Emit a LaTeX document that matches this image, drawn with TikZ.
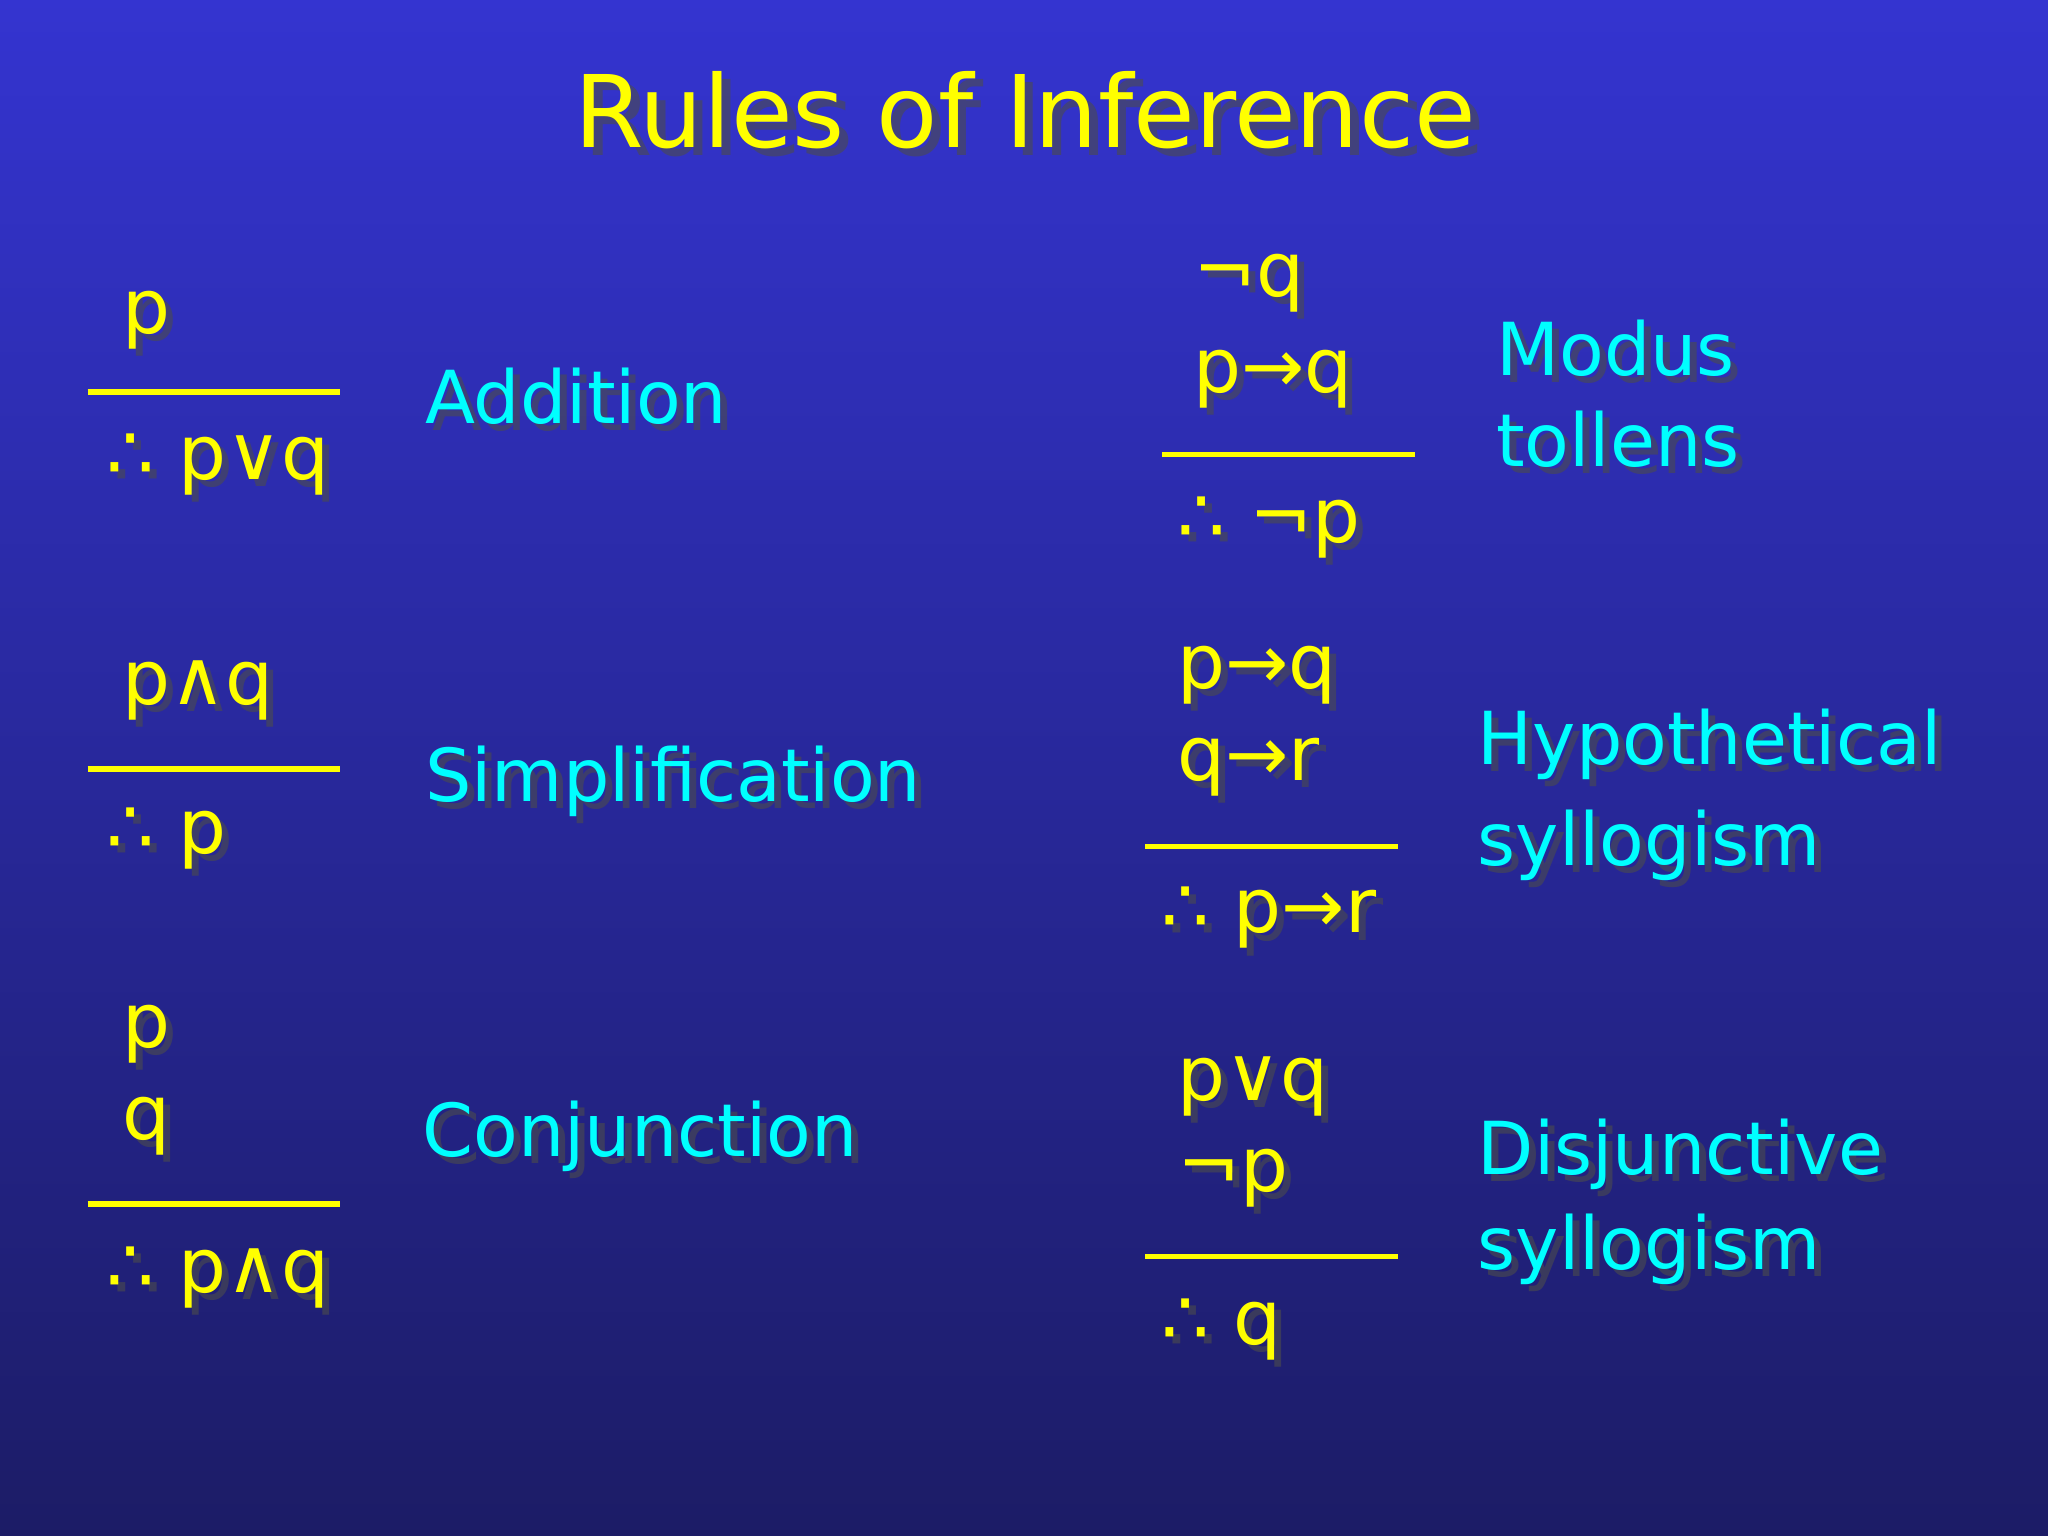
\documentclass[tikz,border=0pt]{standalone}
\usepackage{fontspec}
\setmainfont{DejaVu Sans}
\definecolor{bgtop}{HTML}{3434D0}
\definecolor{bgbot}{HTML}{1C1C66}
\definecolor{ylw}{HTML}{FFFF00}
\definecolor{cyn}{HTML}{00FFFF}
\newcommand\mytxt[5]{%
  \node[anchor=mid west,text=black!70,opacity=0.6,font=#4] (#2s) at ([xshift=2pt,yshift=-5.7pt]#1) {#5};
  \node[anchor=mid west,text=#3,font=#4] (#2) at ([yshift=-3.7pt]#1) {#5};}
\tikzset{rule/.style={draw=ylw,line width=1.6pt}}
\begin{document}
\begin{tikzpicture}[x=0.01306cm,y=-0.01306cm]
\shade[top color=bgtop,bottom color=bgbot] (0,0) rectangle (1568,1176);
\useasboundingbox (0,0) rectangle (1568,1176);
\def\F{\fontsize{21.5}{26}\selectfont}
\def\L{\fontsize{20.8}{25}\selectfont}
% title
\node[text=black!70,opacity=0.6,font=\fontsize{28.5}{34}\selectfont] (ts) at ([xshift=2.5pt,yshift=-2.5pt]785,84) {Rules of Inference};
\node[text=ylw,font=\fontsize{28.5}{34}\selectfont] (title) at (785,84) {Rules of Inference};
% Addition
\mytxt{84,238}{a1}{ylw}{\F}{p}
\coordinate (a0) at (67,300); \coordinate (a9) at (260,300);
\draw[rule] (a0) -- (a9);
\mytxt{72,350}{a2}{ylw}{\F}{∴ p∨q}
\mytxt{316,307}{al}{cyn}{\L}{Addition}
% Simplification
\mytxt{84,522}{s1}{ylw}{\F}{p∧q}
\coordinate (s0) at (67,589); \coordinate (s9) at (260,589);
\draw[rule] (s0) -- (s9);
\mytxt{72,636}{s2}{ylw}{\F}{∴ p}
\mytxt{316,596}{sl}{cyn}{\L}{Simplification}
% Conjunction
\mytxt{84,785}{c1}{ylw}{\F}{p}
\mytxt{84,855}{c2}{ylw}{\F}{q}
\coordinate (c0) at (67,922); \coordinate (c9) at (260,922);
\draw[rule] (c0) -- (c9);
\mytxt{72,972}{c3}{ylw}{\F}{∴ p∧q}
\mytxt{314,868}{cl}{cyn}{\L}{Conjunction}
% Modus tollens
\mytxt{904,210}{m1}{ylw}{\F}{¬q}
\mytxt{904,283}{m2}{ylw}{\F}{p→q}
\coordinate (m0) at (890,348); \coordinate (m9) at (1083,348);
\draw[rule] (m0) -- (m9);
\mytxt{892,398}{m3}{ylw}{\F}{∴ ¬p}
\mytxt{1136,270}{ml1}{cyn}{\L}{Modus}
\mytxt{1136,340}{ml2}{cyn}{\L}{tollens}
% Hypothetical syllogism
\mytxt{892,510}{h1}{ylw}{\F}{p→q}
\mytxt{892,580}{h2}{ylw}{\F}{q→r}
\coordinate (h0) at (877,648); \coordinate (h9) at (1070,648);
\draw[rule] (h0) -- (h9);
\mytxt{880,697}{h3}{ylw}{\F}{∴ p→r}
\mytxt{1122,568}{hl1}{cyn}{\L}{Hypothetical}
\mytxt{1122,645}{hl2}{cyn}{\L}{syllogism}
% Disjunctive syllogism
\mytxt{892,825}{d1}{ylw}{\F}{p∨q}
\mytxt{892,895}{d2}{ylw}{\F}{¬p}
\coordinate (d0) at (877,962); \coordinate (d9) at (1070,962);
\draw[rule] (d0) -- (d9);
\mytxt{880,1012}{d3}{ylw}{\F}{∴ q}
\mytxt{1122,882}{dl1}{cyn}{\L}{Disjunctive}
\mytxt{1122,955}{dl2}{cyn}{\L}{syllogism}
\end{tikzpicture}
\end{document}
